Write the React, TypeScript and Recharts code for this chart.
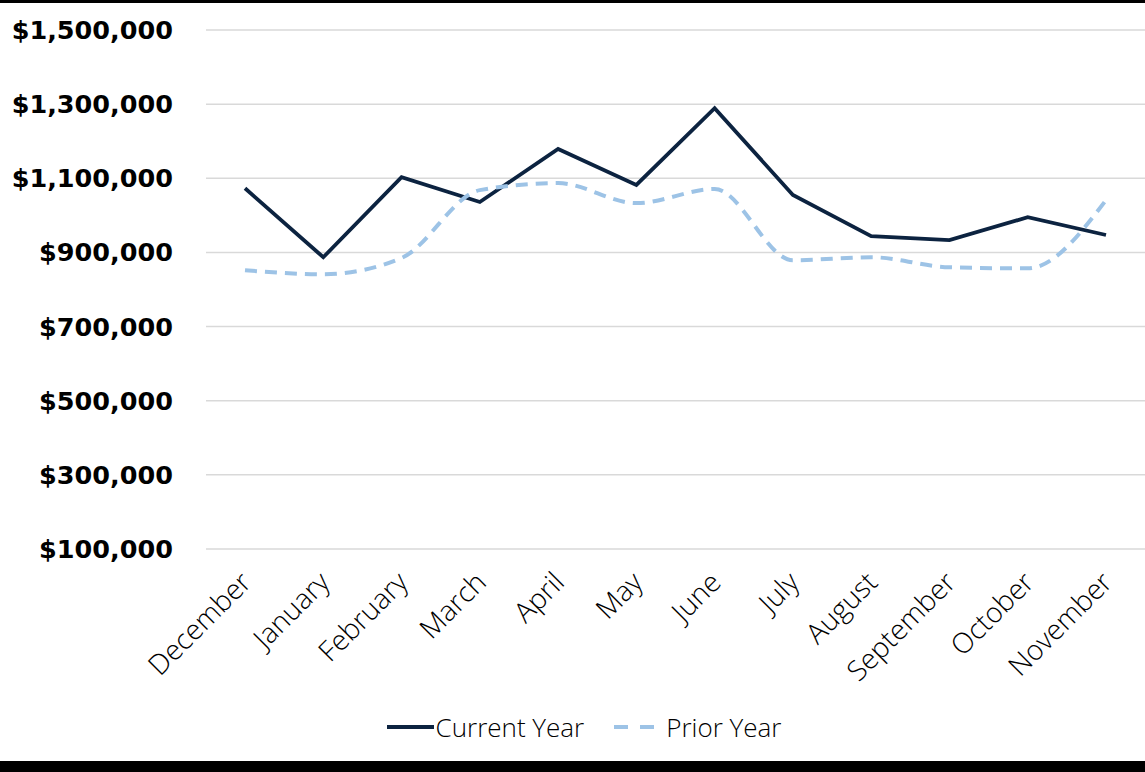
import React from "react";
import { LineChart, Line, XAxis, YAxis, CartesianGrid, Legend } from "recharts";

const months = ["December", "January", "February", "March", "April", "May", "June", "July", "August", "September", "October", "November"];
const currentYear = [1073000, 887000, 1103000, 1036000, 1179000, 1082000, 1289000, 1055000, 944000, 933000, 995000, 947000];
const priorYear = [852000, 841000, 885000, 1068000, 1087000, 1033000, 1071000, 879000, 887000, 860000, 857000, 1041000];
const yTicks = [100000, 300000, 500000, 700000, 900000, 1100000, 1300000, 1500000];

const CURRENT = "#0c2340";
const PRIOR = "#9dc3e6";

const data = months.map((m, i) => ({ month: m, current: currentYear[i], prior: priorYear[i] }));

const fmt = (v: number) => "$" + v.toLocaleString("en-US");

function MonthTick(props: any) {
  const { x, y, payload } = props;
  return (
    <g transform={`translate(${x + 8},${y + 27})`}>
      <text
        textAnchor="end"
        transform="rotate(-45)"
        fontFamily="'Open Sans', sans-serif"
        fontWeight={300}
        fontSize={28}
        fill="#000"
      >
        {payload.value}
      </text>
    </g>
  );
}

function LegendBox() {
  return (
    <div style={{ display: "flex", justifyContent: "center", alignItems: "center", fontFamily: "'Open Sans', sans-serif", fontWeight: 300, fontSize: 26, color: "#000", paddingLeft: 20 }}>
      <svg width={52} height={10}>
        <line x1={3} y1={5} x2={50} y2={5} stroke={CURRENT} strokeWidth={4} />
      </svg>
      <span style={{ marginRight: 28 }}>Current Year</span>
      <svg width={54} height={10}>
        <line x1={2} y1={5} x2={46} y2={5} stroke={PRIOR} strokeWidth={4} strokeDasharray="14 12" />
      </svg>
      <span>Prior Year</span>
    </div>
  );
}

export default function App() {
  return (
    <div style={{ position: "absolute", left: 0, top: 0, width: 1145, height: 772, background: "#fff", overflow: "hidden" }}>
      <div style={{ position: "absolute", left: 0, top: 0, width: 1145, height: 3, background: "#000" }} />
      <LineChart width={1145} height={772} data={data} margin={{ top: 30, right: 0, bottom: 20, left: 0 }}>
        <CartesianGrid vertical={false} stroke="#d9d9d9" strokeWidth={1.5} />
        <XAxis
          dataKey="month"
          axisLine={false}
          tickLine={false}
          interval={0}
          height={160}
          padding={{ left: 39, right: 39 }}
          tick={<MonthTick />}
        />
        <YAxis
          domain={[100000, 1500000]}
          ticks={yTicks}
          tickFormatter={fmt}
          axisLine={false}
          tickLine={false}
          width={206}
          tick={{ fontFamily: "'DejaVu Sans', sans-serif", fontWeight: 700, fontSize: 25.5, fill: "#000" }}
          tickMargin={27}
        />
        <Legend verticalAlign="bottom" height={43} content={<LegendBox />} />
        <Line
          type="linear"
          dataKey="current"
          stroke={CURRENT}
          strokeWidth={3.8}
          dot={false}
          isAnimationActive={false}
        />
        <Line
          type="monotone"
          dataKey="prior"
          stroke={PRIOR}
          strokeWidth={4}
          strokeDasharray="12 8"
          dot={false}
          isAnimationActive={false}
        />
      </LineChart>
      <div style={{ position: "absolute", left: 0, top: 761, width: 1145, height: 11, background: "#000" }} />
    </div>
  );
}
